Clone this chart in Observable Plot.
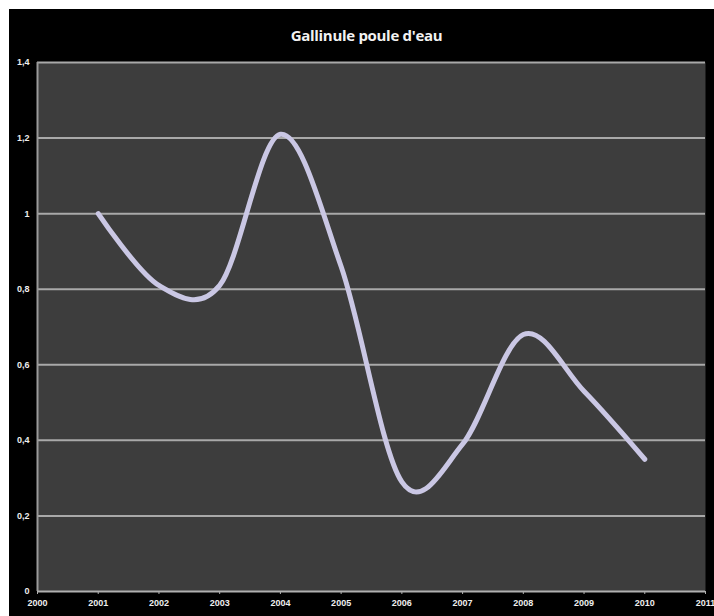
<!DOCTYPE html>
<html>
<head>
<meta charset="utf-8">
<script src="https://cdn.jsdelivr.net/npm/d3@7"></script>
<script src="https://cdn.jsdelivr.net/npm/@observablehq/plot@0.6"></script>
<style>
  html, body { margin: 0; padding: 0; background: #ffffff; }
  #chart {
    position: absolute; left: 9px; top: 9px; width: 705px; height: 607px;
    background: #000000; overflow: hidden;
  }
  #title {
    height: 43px; box-sizing: border-box; padding-top: 9px; padding-left: 10px;
    line-height: 34px; text-align: center; color: #f2f2f2;
    font-family: "Liberation Sans Narrow", "Open Sans", sans-serif; font-weight: bold; font-size: 15px;
    letter-spacing: -0.3px;
  }
  svg { display: block; }
</style>
</head>
<body>
<div id="chart">
  <div id="title">Gallinule poule d'eau</div>
</div>
<script>
const years = [2001, 2002, 2003, 2004, 2005, 2006, 2007, 2008, 2009, 2010];
const values = [1.0, 0.81, 0.81, 1.21, 0.86, 0.29, 0.39, 0.68, 0.53, 0.35];
const xTicks = [2000, 2001, 2002, 2003, 2004, 2005, 2006, 2007, 2008, 2009, 2010, 2011];
const yTicks = [0, 0.2, 0.4, 0.6, 0.8, 1, 1.2, 1.4];

const data = years.map((y, i) => ({year: y, value: values[i]}));
const fmtY = v => String(+v.toFixed(1)).replace(".", ",");

const chart = Plot.plot({
  width: 705,
  height: 564,
  marginLeft: 28,
  marginRight: 9,
  marginTop: 10,
  marginBottom: 25,
  style: {background: "#000000", color: "#ffffff", fontFamily: "Liberation Sans Narrow, sans-serif", fontWeight: "bold", fontSize: "9px"},
  x: {domain: [2000, 2011], ticks: xTicks, tickFormat: d => String(d), label: null},
  y: {domain: [0, 1.4], ticks: yTicks, tickFormat: fmtY, label: null},
  marks: [
    Plot.frame({fill: "#3d3d3d", stroke: null}),
    Plot.ruleY(yTicks.filter(d => d > 0), {stroke: "#a9a9a9", strokeWidth: 2}),
    Plot.ruleX([2000], {stroke: "#9a9a9a", strokeWidth: 2}),
    Plot.ruleY([0], {stroke: "#b0b0b0", strokeWidth: 2}),
    Plot.axisX({ticks: xTicks, tickFormat: d => String(d), tickSize: 3, tickPadding: 5, stroke: "#b0b0b0", fill: "#eeeeee", label: null}),
    Plot.axisY({ticks: yTicks, tickFormat: fmtY, tickSize: 0, tickPadding: 8, fill: "#eeeeee", label: null}),
    Plot.line(data, {x: "year", y: "value", curve: "cardinal", stroke: "#cac7e4", strokeWidth: 5, strokeLinecap: "round", strokeLinejoin: "round"})
  ]
});
document.getElementById("chart").appendChild(chart);
</script>
</body>
</html>
